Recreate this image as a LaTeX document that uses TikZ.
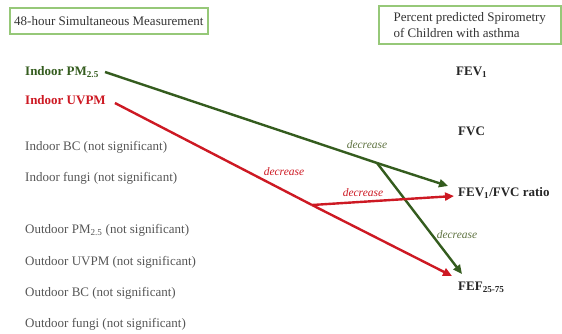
\documentclass[tikz,border=0pt]{standalone}
\usepackage{fontspec}
\setmainfont{Liberation Serif}
\usetikzlibrary{arrows.meta}
\definecolor{dgreen}{RGB}{52,92,30}
\definecolor{dred}{RGB}{205,25,35}
\definecolor{txtgray}{RGB}{85,85,85}
\definecolor{boxgreen}{RGB}{150,200,120}
\definecolor{lgreen}{RGB}{95,115,65}
\tikzset{
  lbl/.style={anchor=west, inner sep=0pt, font=\fontsize{13}{15}\selectfont},
  ns/.style={lbl, text=txtgray},
  outc/.style={lbl, font=\fontsize{13}{15}\selectfont\bfseries, text=black!85},
  hdr/.style={draw=boxgreen, line width=1.6pt, inner xsep=4pt, inner ysep=2pt, font=\fontsize{13}{16}\selectfont, text=black!80, align=left},
  garr/.style={draw=dgreen, line width=2.4pt, -{Triangle[length=9pt,width=8pt]}},
  rarr/.style={draw=dred, line width=2.4pt, -{Triangle[length=9pt,width=8pt]}},
  dec/.style={font=\fontsize{11.5}{13}\selectfont\itshape, inner sep=0pt}
}
\begin{document}
\begin{tikzpicture}[x=1pt,y=-1pt]
\useasboundingbox (0,0) rectangle (562,333);
% header boxes
\node[hdr, anchor=north west, minimum width=198pt, minimum height=26pt] (h1) at (9,7) {48-hour Simultaneous Measurement};
\node[hdr, anchor=north west, minimum width=182pt, minimum height=38pt] (h2) at (378,5) {Percent predicted Spirometry\\of Children with asthma};
% exposures
\node[lbl, font=\fontsize{13}{15}\selectfont\bfseries, text=dgreen] (pm) at (25,72) {Indoor PM\textsubscript{2.5}};
\node[lbl, font=\fontsize{13}{15}\selectfont\bfseries, text=dred] (uv) at (25,100) {Indoor UVPM};
\node[ns] (bc) at (25,147) {Indoor BC (not significant)};
\node[ns] (fu) at (25,178) {Indoor fungi (not significant)};
\node[ns] (opm) at (25,230) {Outdoor PM\textsubscript{2.5} (not significant)};
\node[ns] (ouv) at (25,262) {Outdoor UVPM (not significant)};
\node[ns] (obc) at (25,293) {Outdoor BC (not significant)};
\node[ns] (ofu) at (25,324) {Outdoor fungi (not significant)};
% outcomes
\node[outc] (fev) at (456,72) {FEV\textsubscript{1}};
\node[outc] (fvc) at (458,131) {FVC};
\node[outc] (ratio) at (458,193) {FEV\textsubscript{1}/FVC ratio};
\node[outc] (fef) at (458,287) {FEF\textsubscript{25-75}};
% branch points
\coordinate (gb) at (377,163);
\coordinate (rb) at (312,205);
\coordinate (gt1) at (448,186);
\coordinate (gt2) at (462,274);
\coordinate (rt1) at (454,196);
\coordinate (rt2) at (452,276);
% connectors
\draw[draw=dgreen, line width=2.4pt] (pm.east) ++(6,0) -- (gb);
\draw[garr] (gb) -- (gt1);
\draw[garr] (gb) -- (gt2);
\draw[draw=dred, line width=2.4pt] (uv.east) ++(9,3) -- (rb);
\draw[rarr] (rb) -- (rt1);
\draw[rarr] (rb) -- (rt2);
% labels
\node[dec, text=lgreen] (d1) at (367,145) {decrease};
\node[dec, text=dred] (d2) at (284,172) {decrease};
\node[dec, text=dred] (d3) at (363,193) {decrease};
\node[dec, text=lgreen] (d4) at (457,235) {decrease};
\end{tikzpicture}
\end{document}
